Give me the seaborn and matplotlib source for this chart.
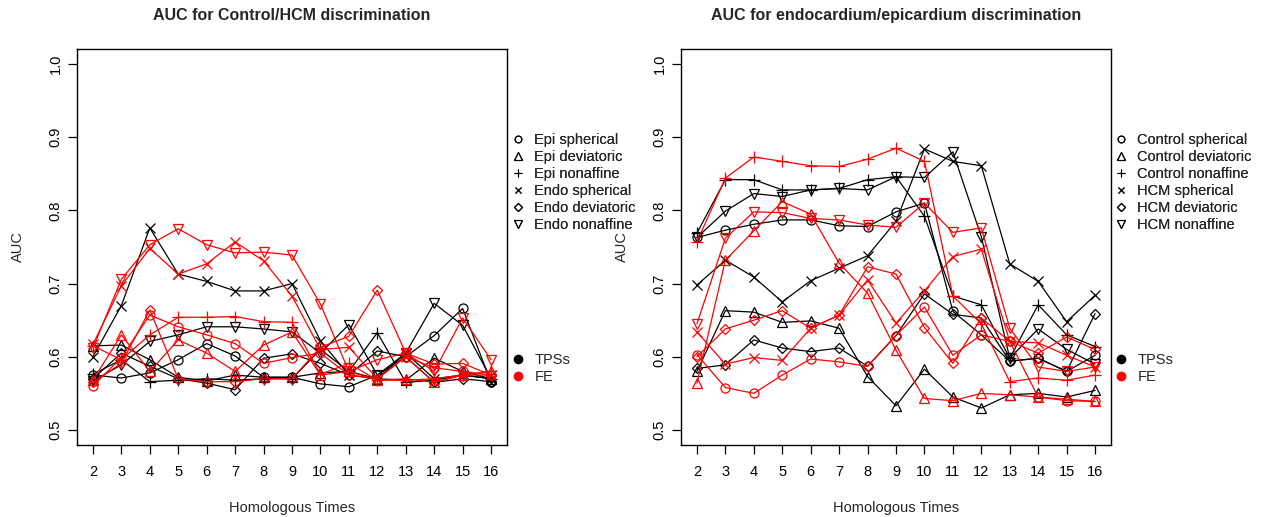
import matplotlib
matplotlib.use("Agg")
import matplotlib.pyplot as plt
import seaborn as sns
import pandas as pd
from matplotlib.lines import Line2D

times = list(range(2, 17))
yticks = [0.5, 0.6, 0.7, 0.8, 0.9, 1.0]

left_title = "AUC for Control/HCM discrimination"
right_title = "AUC for endocardium/epicardium discrimination"
left_labels = ["Epi spherical", "Epi deviatoric", "Epi nonaffine",
               "Endo spherical", "Endo deviatoric", "Endo nonaffine"]
right_labels = ["Control spherical", "Control deviatoric", "Control nonaffine",
                "HCM spherical", "HCM deviatoric", "HCM nonaffine"]
method_labels = ["TPSs", "FE"]

# ---- left panel, TPSs (black)
L_tps_epi_sph = [0.575, 0.571, 0.578, 0.596, 0.618, 0.601, 0.572, 0.572, 0.563, 0.559, 0.575, 0.600, 0.629, 0.666, 0.565]
L_tps_epi_dev = [0.615, 0.616, 0.596, 0.572, 0.567, 0.575, 0.572, 0.572, 0.578, 0.580, 0.570, 0.568, 0.598, 0.580, 0.570]
L_tps_epi_non = [0.576, 0.596, 0.566, 0.568, 0.570, 0.568, 0.570, 0.570, 0.610, 0.580, 0.633, 0.565, 0.568, 0.575, 0.570]
L_tps_endo_sph = [0.600, 0.670, 0.776, 0.713, 0.703, 0.690, 0.690, 0.700, 0.622, 0.575, 0.570, 0.605, 0.570, 0.575, 0.570]
L_tps_endo_dev = [0.570, 0.605, 0.587, 0.570, 0.564, 0.555, 0.598, 0.604, 0.591, 0.575, 0.608, 0.600, 0.565, 0.570, 0.566]
L_tps_endo_non = [0.567, 0.589, 0.621, 0.630, 0.641, 0.641, 0.638, 0.634, 0.605, 0.644, 0.575, 0.605, 0.673, 0.643, 0.570]
# ---- left panel, FE (red)
L_fe_epi_sph = [0.560, 0.599, 0.657, 0.641, 0.630, 0.618, 0.591, 0.599, 0.605, 0.575, 0.570, 0.600, 0.585, 0.580, 0.575]
L_fe_epi_dev = [0.568, 0.630, 0.580, 0.623, 0.605, 0.580, 0.616, 0.634, 0.575, 0.580, 0.568, 0.570, 0.565, 0.575, 0.580]
L_fe_epi_non = [0.615, 0.596, 0.630, 0.654, 0.654, 0.655, 0.648, 0.647, 0.576, 0.591, 0.568, 0.568, 0.570, 0.575, 0.580]
L_fe_endo_sph = [0.617, 0.697, 0.748, 0.713, 0.727, 0.757, 0.731, 0.683, 0.610, 0.613, 0.570, 0.600, 0.565, 0.575, 0.575]
L_fe_endo_dev = [0.565, 0.591, 0.664, 0.570, 0.566, 0.566, 0.570, 0.570, 0.613, 0.628, 0.691, 0.605, 0.590, 0.591, 0.575]
L_fe_endo_non = [0.612, 0.706, 0.753, 0.775, 0.753, 0.742, 0.743, 0.739, 0.672, 0.580, 0.596, 0.605, 0.580, 0.653, 0.596]

# ---- right panel, TPSs (black)
R_tps_ctl_sph = [0.763, 0.773, 0.781, 0.787, 0.787, 0.779, 0.778, 0.798, 0.810, 0.662, 0.630, 0.594, 0.598, 0.580, 0.602]
R_tps_ctl_dev = [0.580, 0.663, 0.661, 0.647, 0.649, 0.639, 0.573, 0.533, 0.583, 0.545, 0.530, 0.548, 0.550, 0.545, 0.554]
R_tps_ctl_non = [0.769, 0.842, 0.842, 0.828, 0.828, 0.830, 0.842, 0.846, 0.792, 0.683, 0.671, 0.598, 0.671, 0.630, 0.614]
R_tps_hcm_sph = [0.698, 0.732, 0.709, 0.675, 0.704, 0.721, 0.738, 0.785, 0.884, 0.867, 0.861, 0.727, 0.703, 0.648, 0.684]
R_tps_hcm_dev = [0.584, 0.589, 0.623, 0.612, 0.607, 0.612, 0.587, 0.629, 0.686, 0.658, 0.653, 0.594, 0.598, 0.580, 0.659]
R_tps_hcm_non = [0.763, 0.799, 0.823, 0.819, 0.828, 0.830, 0.828, 0.846, 0.845, 0.880, 0.764, 0.598, 0.638, 0.610, 0.590]
# ---- right panel, FE (red)
R_fe_ctl_sph = [0.603, 0.558, 0.550, 0.575, 0.597, 0.593, 0.587, 0.629, 0.668, 0.602, 0.630, 0.621, 0.545, 0.540, 0.539]
R_fe_ctl_dev = [0.564, 0.732, 0.772, 0.812, 0.795, 0.728, 0.687, 0.609, 0.543, 0.540, 0.550, 0.548, 0.545, 0.542, 0.539]
R_fe_ctl_non = [0.757, 0.844, 0.873, 0.867, 0.861, 0.860, 0.870, 0.885, 0.867, 0.683, 0.645, 0.566, 0.571, 0.568, 0.575]
R_fe_hcm_sph = [0.634, 0.590, 0.599, 0.595, 0.639, 0.657, 0.705, 0.646, 0.690, 0.737, 0.747, 0.621, 0.619, 0.602, 0.586]
R_fe_hcm_dev = [0.600, 0.638, 0.650, 0.663, 0.639, 0.657, 0.723, 0.713, 0.640, 0.591, 0.653, 0.621, 0.605, 0.627, 0.610]
R_fe_hcm_non = [0.645, 0.762, 0.798, 0.797, 0.789, 0.787, 0.780, 0.777, 0.810, 0.770, 0.776, 0.639, 0.586, 0.580, 0.586]

markers = ["o", "^", "+", "x", "D", "v"]
msizes = {"o": 6.5, "^": 7.0, "+": 8.5, "x": 6.5, "D": 5.5, "v": 7.0}
colors = {"TPSs": "black", "FE": "red"}

left_series = {
    "TPSs": [L_tps_epi_sph, L_tps_epi_dev, L_tps_epi_non, L_tps_endo_sph, L_tps_endo_dev, L_tps_endo_non],
    "FE": [L_fe_epi_sph, L_fe_epi_dev, L_fe_epi_non, L_fe_endo_sph, L_fe_endo_dev, L_fe_endo_non],
}
right_series = {
    "TPSs": [R_tps_ctl_sph, R_tps_ctl_dev, R_tps_ctl_non, R_tps_hcm_sph, R_tps_hcm_dev, R_tps_hcm_non],
    "FE": [R_fe_ctl_sph, R_fe_ctl_dev, R_fe_ctl_non, R_fe_hcm_sph, R_fe_hcm_dev, R_fe_hcm_non],
}

sns.set_theme(style="ticks")
plt.rcParams["font.family"] = ["Liberation Sans", "DejaVu Sans"]

fig = plt.figure(figsize=(12.65, 5.17), dpi=100)
W, H = 1265.0, 517.0
ax_left = fig.add_axes([77 / W, 1 - 444.6 / H, 430 / W, 395.2 / H])
ax_right = fig.add_axes([681 / W, 1 - 444.6 / H, 430 / W, 395.2 / H])


def draw_panel(ax, series, labels, title, leg_x):
    for method in method_labels:
        for vals, mk, lab in zip(series[method], markers, labels):
            df = pd.DataFrame({"time": times, "auc": vals})
            sns.lineplot(data=df, x="time", y="auc", ax=ax, color=colors[method],
                         linewidth=0.9, marker=mk, markersize=msizes[mk],
                         markerfacecolor="none", markeredgecolor=colors[method],
                         markeredgewidth=0.9, legend=False)
    ax.set_xlim(1.44, 16.56)
    ax.set_ylim(0.48, 1.02)
    ax.set_xticks(times)
    ax.set_xticklabels([str(t) for t in times], fontsize=10.5)
    ax.set_yticks(yticks)
    ax.set_yticklabels([f"{v:.1f}" for v in yticks], rotation=90, va="center", fontsize=10.5)
    ax.tick_params(axis="x", direction="out", length=6.5, width=0.9, pad=8, colors="black")
    ax.tick_params(axis="y", direction="out", length=6.5, width=0.9, pad=4, colors="black")
    for s in ax.spines.values():
        s.set_visible(True)
        s.set_linewidth(1.0)
        s.set_color("black")
    ax.set_xlabel("Homologous Times", fontsize=10.5, labelpad=16)
    ax.set_ylabel("AUC", fontsize=10.5, labelpad=17)
    ax.set_title(title, fontsize=11.5, fontweight="bold", pad=21)

    h1 = [Line2D([], [], linestyle="none", marker=mk, markersize=msizes[mk] * 0.75,
                 markerfacecolor="none", markeredgecolor="black", markeredgewidth=0.8)
          for mk in markers]
    leg1 = fig.legend(h1, labels, loc="upper left", bbox_to_anchor=(leg_x / W, 1 - 133 / H),
                      frameon=False, fontsize=10.5, handlelength=1.0, handletextpad=0.6,
                      labelspacing=0.21, borderpad=0, borderaxespad=0)
    h2 = [Line2D([], [], linestyle="none", marker="o", markersize=6,
                 markerfacecolor=colors[m], markeredgecolor=colors[m]) for m in method_labels]
    fig.legend(h2, method_labels, loc="upper left", bbox_to_anchor=(leg_x / W, 1 - 353 / H),
               frameon=False, fontsize=10.5, handlelength=1.0, handletextpad=0.6,
               labelspacing=0.23, borderpad=0, borderaxespad=0)
    fig.add_artist(leg1)


draw_panel(ax_left, left_series, left_labels, left_title, 511)
draw_panel(ax_right, right_series, right_labels, right_title, 1114)

fig.savefig("out.png", dpi=100, facecolor="white")
